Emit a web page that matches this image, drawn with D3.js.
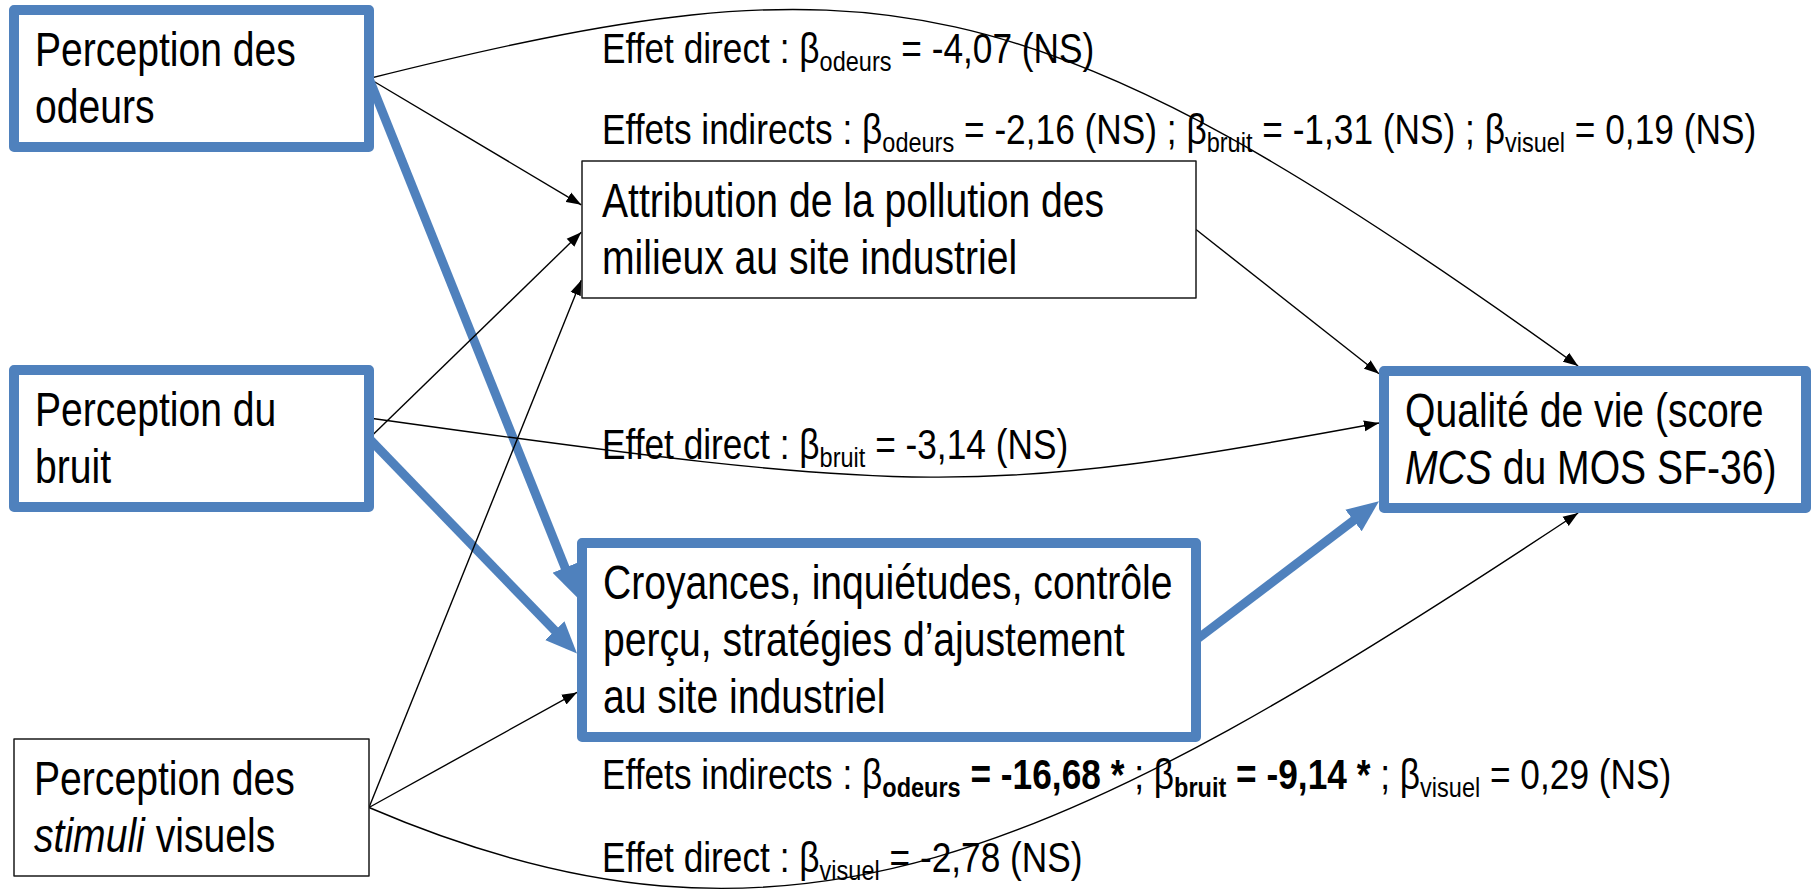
<!DOCTYPE html>
<html>
<head>
<meta charset="utf-8">
<script src="https://cdn.jsdelivr.net/npm/d3@7"></script>
<style>
  html, body { margin: 0; padding: 0; background: #fff; }
  svg { display: block; font-family: "Liberation Sans", Arial, sans-serif; }
  text { white-space: pre; }
</style>
</head>
<body>
<svg id="diagram" width="1816" height="890"></svg>
<script>
// ---- data ----
const predictors = ["odeurs", "bruit", "visuel"];
const sourceLabels = [["Perception des", "odeurs"], ["Perception du", "bruit"], ["Perception des", "_stimuli_ visuels"]];
const mediatorLabels = [["Attribution de la pollution des", "milieux au site industriel"],
                        ["Croyances, inquiétudes, contrôle", "perçu, stratégies d’ajustement", "au site industriel"]];
const outcomeLabel = ["Qualité de vie (score", "_MCS_ du MOS SF-36)"];

const directBeta = [-4.07, -3.14, -2.78];
const directSig = [false, false, false];
const indirectAttributionBeta = [-2.16, -1.31, 0.19];
const indirectAttributionSig = [false, false, false];
const indirectCroyancesBeta = [-16.68, -9.14, 0.29];
const indirectCroyancesSig = [true, true, false];

// ---- layout ----
const W = 1816, H = 890;
const blue = "#4F81BD";
const boxScale = 0.815;     // source text is condensed
const labelScale = 0.84;
const lineH = 57;
const boxFont = 48, labelFont = 42, subShift = 8;

const svg = d3.select("#diagram");
svg.append("rect").attr("width", W).attr("height", H).attr("fill", "#fff");

const columns = ["sources", "mediateurs", "resultat"];
const colLeft = d3.scaleOrdinal().domain(columns).range([14, 582, 1384]);
const colRight = d3.scaleOrdinal().domain(columns).range([369, 1196, 1806]);

const nodes = [
  {id: "odeurs", col: "sources", top: 10, lines: sourceLabels[0], strong: true},
  {id: "bruit", col: "sources", top: 370, lines: sourceLabels[1], strong: true},
  {id: "visuels", col: "sources", top: 739, lines: sourceLabels[2], strong: false},
  {id: "attribution", col: "mediateurs", top: 161, lines: mediatorLabels[0], strong: false},
  {id: "croyances", col: "mediateurs", top: 543, lines: mediatorLabels[1], strong: true},
  {id: "qualite", col: "resultat", top: 371, lines: outcomeLabel, strong: true}
];
nodes.forEach(n => {
  n.x = colLeft(n.col);
  n.w = colRight(n.col) - n.x;
  n.y = n.top;
  n.h = n.lines.length * lineH + 23;
  n.sw = n.strong ? 10 : 1.5;
});
const byId = Object.fromEntries(nodes.map(n => [n.id, n]));

const edges = [
  {from: "odeurs", to: "attribution", fp: [1, .5], tp: [0, .32]},
  {from: "odeurs", to: "croyances", fp: [1, .5], tp: [0, .28], strong: true},
  {from: "odeurs", to: "qualite", fp: [1, .5], tp: [.46, 0], bend: [[500, -125], [-550, -396]]},
  {from: "bruit", to: "attribution", fp: [1, .5], tp: [0, .52]},
  {from: "bruit", to: "croyances", fp: [1, .5], tp: [0, .57], strong: true},
  {from: "bruit", to: "qualite", fp: [1, .35], tp: [0, .38], bend: [[550, 77], [-400, 74]]},
  {from: "visuels", to: "attribution", fp: [1, .5], tp: [0, .87]},
  {from: "visuels", to: "croyances", fp: [1, .5], tp: [0, .77]},
  {from: "visuels", to: "qualite", fp: [1, .5], tp: [.46, 1], bend: [[420, 180], [-520, 345]]},
  {from: "attribution", to: "qualite", fp: [1, .5], tp: [0, .02]},
  {from: "croyances", to: "qualite", fp: [1, .5], tp: [0, .95], strong: true}
];

function port(n, f, outer) {
  const pad = outer ? n.sw / 2 : 0;
  let x = n.x + f[0] * n.w, y = n.y + f[1] * n.h;
  if (f[0] === 0) x -= pad;
  if (f[0] === 1) x += pad;
  if (f[1] === 0) y -= pad;
  if (f[1] === 1) y += pad;
  return [x, y];
}

// ---- markers ----
const defs = svg.append("defs");
defs.append("marker").attr("id", "tip")
  .attr("markerUnits", "userSpaceOnUse")
  .attr("markerWidth", 16).attr("markerHeight", 12)
  .attr("refX", 15).attr("refY", 6).attr("orient", "auto")
  .append("path").attr("d", "M0,0.5L15,6L0,11.5Z").attr("fill", "#000");
defs.append("marker").attr("id", "tipBlue")
  .attr("markerUnits", "userSpaceOnUse")
  .attr("markerWidth", 33).attr("markerHeight", 28)
  .attr("refX", 4).attr("refY", 14).attr("orient", "auto")
  .append("path").attr("d", "M0,0.5L32,14L0,27.5Z").attr("fill", blue);

// ---- edges ----
const gEdges = svg.append("g");
edges.forEach(e => {
  const a = byId[e.from], b = byId[e.to];
  const p0 = port(a, e.fp, false);
  const p1 = port(b, e.tp, true);
  if (e.bend) {
    const c1 = [p0[0] + e.bend[0][0], p0[1] + e.bend[0][1]];
    const c2 = [p1[0] + e.bend[1][0], p1[1] + e.bend[1][1]];
    const path = d3.path();
    path.moveTo(p0[0], p0[1]);
    path.bezierCurveTo(c1[0], c1[1], c2[0], c2[1], p1[0], p1[1]);
    gEdges.append("path").attr("d", path.toString())
      .attr("fill", "none").attr("stroke", "#000").attr("stroke-width", 1.4)
      .attr("marker-end", "url(#tip)");
  } else if (e.strong) {
    const dx = p1[0] - p0[0], dy = p1[1] - p0[1], len = Math.hypot(dx, dy);
    const end = [p1[0] - dx / len * 28, p1[1] - dy / len * 28];
    gEdges.append("line")
      .attr("x1", p0[0]).attr("y1", p0[1]).attr("x2", end[0]).attr("y2", end[1])
      .attr("stroke", blue).attr("stroke-width", 9)
      .attr("marker-end", "url(#tipBlue)");
  } else {
    gEdges.append("line")
      .attr("x1", p0[0]).attr("y1", p0[1]).attr("x2", p1[0]).attr("y2", p1[1])
      .attr("stroke", "#000").attr("stroke-width", 1.4)
      .attr("marker-end", "url(#tip)");
  }
});

// ---- rich text helper ----
function parseLine(str) {
  return str.split("_").map((t, i) => ({text: t, italic: i % 2 === 1})).filter(s => s.text.length);
}

function drawRich(g, x, y, segs, size, sx) {
  const t = g.append("text")
    .attr("transform", `translate(${x},${y}) scale(${sx},1)`)
    .attr("font-size", size).attr("fill", "#000");
  let shifted = 0;
  segs.forEach(s => {
    const ts = t.append("tspan").text(s.text);
    if (s.italic) ts.attr("font-style", "italic");
    if (s.bold) ts.attr("font-weight", "bold");
    const want = s.sub ? subShift : 0;
    if (want !== shifted) { ts.attr("dy", want - shifted); shifted = want; }
    if (s.sub) ts.attr("font-size", Math.round(size * 0.67));
  });
}

// ---- boxes ----
const gBoxes = svg.append("g");
nodes.forEach(n => {
  gBoxes.append("rect")
    .attr("x", n.x).attr("y", n.y).attr("width", n.w).attr("height", n.h)
    .attr("fill", "#fff")
    .attr("stroke", n.strong ? blue : "#1a1a1a")
    .attr("stroke-width", n.sw)
    .attr("stroke-linejoin", "round");
  const cx = n.x + (n.strong ? 21 : 20);
  const first = n.y + n.h / 2 - (n.lines.length - 1) * lineH / 2 + 16;
  n.lines.forEach((ln, i) => drawRich(gBoxes, cx, first + i * lineH, parseLine(ln), boxFont, boxScale));
});

// ---- effect labels ----
const fr = d3.formatLocale({decimal: ",", thousands: " ", grouping: [3], currency: ["", " €"], minus: "-"});
const fmt = fr.format(".2f");

function effectSegments(prefix, idx, betas, sigs) {
  const segs = [{text: prefix}];
  idx.forEach((i, k) => {
    if (k > 0) segs.push({text: " ; "});
    segs.push({text: "β"});
    segs.push({text: predictors[i], sub: true, bold: sigs[i]});
    segs.push({text: " = " + fmt(betas[i]) + (sigs[i] ? " *" : " (NS)"), bold: sigs[i]});
  });
  return segs;
}

const labelRows = [63, 144, 459, 789, 872];
const labelX = 602;
const labels = [
  effectSegments("Effet direct : ", [0], directBeta, directSig),
  effectSegments("Effets indirects : ", [0, 1, 2], indirectAttributionBeta, indirectAttributionSig),
  effectSegments("Effet direct : ", [1], directBeta, directSig),
  effectSegments("Effets indirects : ", [0, 1, 2], indirectCroyancesBeta, indirectCroyancesSig),
  effectSegments("Effet direct : ", [2], directBeta, directSig)
];
const gLabels = svg.append("g");
labels.forEach((segs, i) => drawRich(gLabels, labelX, labelRows[i], segs, labelFont, labelScale));
</script>
</body>
</html>
